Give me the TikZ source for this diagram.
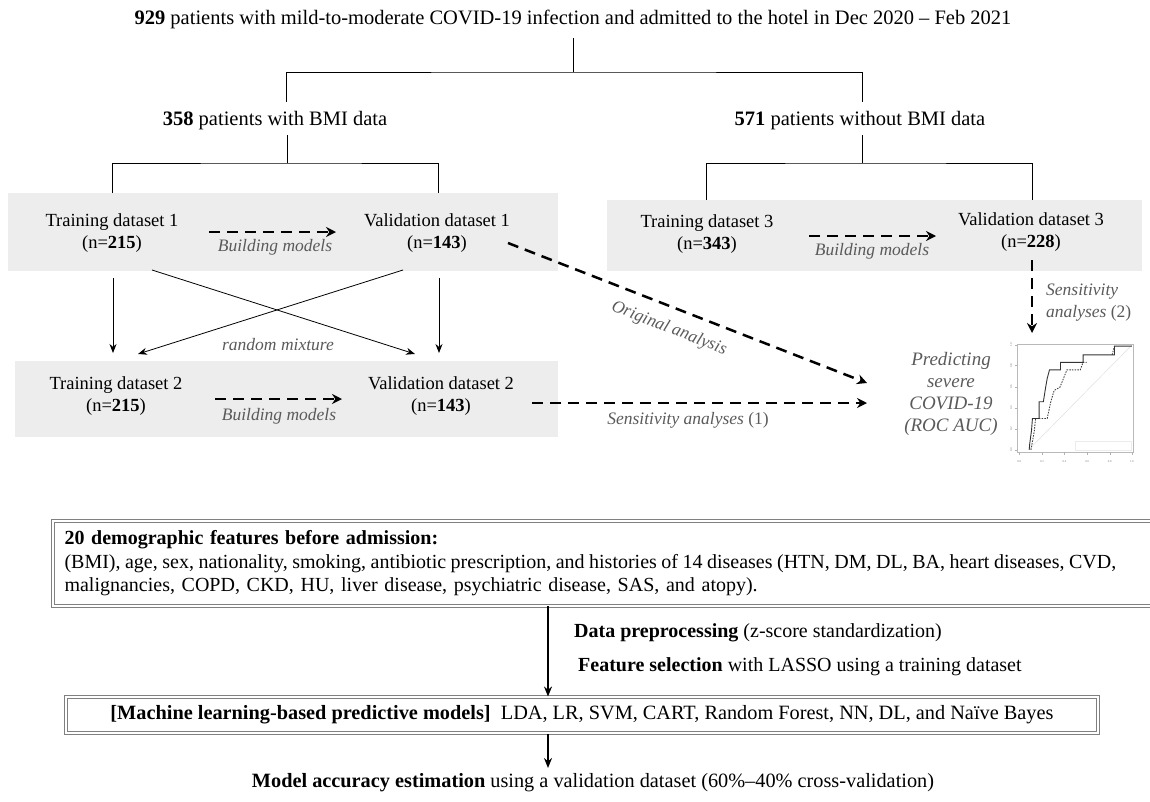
\documentclass[tikz,border=0pt]{standalone}
\usepackage{fontspec}
\setmainfont{Liberation Serif}
\usetikzlibrary{arrows.meta}
\definecolor{boxgray}{HTML}{EDEDED}
\definecolor{notegray}{HTML}{5A5A5A}
\begin{document}
\begin{tikzpicture}[x=1pt,y=-1pt,
 big/.style={font=\fontsize{20.5}{24}\selectfont, inner sep=0pt},
 lbl/.style={font=\fontsize{18.5}{22}\selectfont, align=center, inner sep=0pt},
 note/.style={font=\fontsize{17.5}{21}\selectfont\itshape, text=notegray, inner sep=0pt},
 gbox/.style={fill=boxgray, draw=none},
 dasharr/.style={line width=2.5pt, dash pattern=on 11pt off 7pt, -{Stealth[length=10pt,width=10pt]}},
 thinarr/.style={line width=0.8pt, -{Stealth[length=9pt,width=7pt]}},
 tree/.style={line width=0.9pt},
 thickarr/.style={line width=2pt, -{Stealth[length=10pt,width=8pt]}},
 dbox/.style={draw=gray, double=white, double distance=2pt, line width=1pt},
]
\useasboundingbox (0,0) rectangle (1150,801);

% gray panels
\fill[gbox] (8,193) rectangle (558,271);
\fill[gbox] (607,200) rectangle (1142,271);
\fill[gbox] (15,361) rectangle (558,437);

% top
\node[big] (top) at (573,19) {\textbf{929} patients with mild-to-moderate COVID-19 infection and admitted to the hotel in Dec 2020 -- Feb 2021};
\node[big] (with) at (275,121) {\textbf{358} patients with BMI data};
\node[big] (without) at (860,121) {\textbf{571} patients without BMI data};

\coordinate (t0) at (573,38);
\coordinate (t1) at (573,72);
\coordinate (tl) at (286,102);
\coordinate (tr) at (862,102);
\draw[tree] (t0) -- (t1);
\draw[tree] (tl) |- (t1) -| (tr);

\coordinate (w0) at (287,135);
\coordinate (w1) at (287,163);
\coordinate (wl) at (112,193);
\coordinate (wr) at (438,193);
\draw[tree] (w0) -- (w1);
\draw[tree] (wl) |- (w1) -| (wr);

\coordinate (o0) at (862,135);
\coordinate (o1) at (862,163);
\coordinate (ol) at (706,200);
\coordinate (or) at (1032,200);
\draw[tree] (o0) -- (o1);
\draw[tree] (ol) |- (o1) -| (or);

% datasets
\node[lbl] (tr1) at (112,233) {Training dataset 1\\(n=\textbf{215})};
\node[lbl] (va1) at (437,233) {Validation dataset 1\\(n=\textbf{143})};
\node[lbl] (tr2) at (116,396) {Training dataset 2\\(n=\textbf{215})};
\node[lbl] (va2) at (441,396) {Validation dataset 2\\(n=\textbf{143})};
\node[lbl] (tr3) at (707,234.5) {Training dataset 3\\(n=\textbf{343})};
\node[lbl] (va3) at (1031,232.5) {Validation dataset 3\\(n=\textbf{228})};

% building models
\coordinate (b1s) at (209,232);
\coordinate (b1e) at (336,232);
\draw[dasharr] (b1s) -- (b1e);
\node[note] (bm1) at (275,247) {Building models};
\coordinate (b2s) at (215,399);
\coordinate (b2e) at (342,399);
\draw[dasharr] (b2s) -- (b2e);
\node[note] (bm2) at (279,416) {Building models};
\coordinate (b3s) at (809,236);
\coordinate (b3e) at (936,236);
\draw[dasharr] (b3s) -- (b3e);
\node[note] (bm3) at (872,251) {Building models};

% vertical and cross arrows
\coordinate (d1s) at (113,278);
\coordinate (d1e) at (113,353);
\coordinate (d2s) at (439,278);
\coordinate (d2e) at (439,353);
\draw[thinarr] (d1s) -- (d1e);
\draw[thinarr] (d2s) -- (d2e);
\coordinate (c1s) at (152,270);
\coordinate (c1e) at (415,354);
\coordinate (c2s) at (403,270);
\coordinate (c2e) at (138,354);
\draw[thinarr] (c1s) -- (c1e);
\draw[thinarr] (c2s) -- (c2e);
\node[note] (mix) at (278,345) {random mixture};

% analyses
\node[font=\fontsize{19}{22}\selectfont\itshape, text=notegray, align=center, inner sep=0pt] (pred) at (951,394) {Predicting\\severe\\COVID-19\\(ROC AUC)};
\coordinate (oa) at (508,243);
\coordinate (oe) at (867,383);
\draw[dasharr] (oa) -- (oe) node[note, pos=0.47, sloped, below=12pt] {Original analysis};
\coordinate (sa) at (532,403);
\coordinate (se) at (867,403);
\draw[dasharr] (sa) -- (se);
\node[note] (s1) at (688,420) {Sensitivity analyses \normalfont(1)};
\coordinate (v3s) at (1032,260);
\coordinate (v3e) at (1032,333);
\draw[dasharr] (v3s) -- (v3e);
\node[note, align=left, font=\fontsize{17.5}{22}\selectfont\itshape, anchor=west] (s2) at (1046,303) {Sensitivity\\analyses \normalfont(2)};

% ROC plot
\begin{scope}[shift={(1017,452)}, x=116pt, y=108pt]
 \draw[gray!55, line width=0.4pt] (0,0) rectangle (1,1);
 \draw[gray!25, line width=0.5pt] (0.1,0.02) -- (0.99,0.99);
 \foreach \v/\t in {0.02/0.0,0.215/0.2,0.41/0.4,0.605/0.6,0.8/0.8,0.99/1.0} {
   \draw[gray!60, line width=0.3pt] (-0.02,\v) -- (0,\v);
   \node[font=\fontsize{3}{3}\selectfont, text=gray, rotate=90, inner sep=0pt] at (-0.05,\v) {\t};
   \draw[gray!60, line width=0.3pt] (\v,0) -- (\v,-0.03);
   \node[font=\fontsize{3}{3}\selectfont, text=gray, inner sep=0pt] at (\v,-0.085) {\t};
 }
 \draw[gray!15, line width=0.3pt] (0.5,0.02) rectangle (0.98,0.1);
 \draw[black!75, line width=0.9pt, dash pattern=on 1.5pt off 1.2pt] (0.12,0.02) -- (0.15,0.2) -- (0.16,0.31) -- (0.26,0.31) -- (0.29,0.46) -- (0.32,0.57) -- (0.37,0.6) -- (0.4,0.68) -- (0.43,0.76) -- (0.545,0.76) -- (0.57,0.83) -- (0.6,0.83);
 \draw[black!75, line width=0.9pt, dash pattern=on 1.5pt off 1.2pt] (0.82,0.9) -- (0.83,0.94) -- (0.84,0.98);
 \draw[black!80, line width=0.9pt] (0.105,0.02) -- (0.11,0.08) -- (0.125,0.2) -- (0.133,0.31) -- (0.19,0.31) -- (0.19,0.465) -- (0.227,0.465) -- (0.247,0.6) -- (0.26,0.68) -- (0.28,0.76) -- (0.375,0.76) -- (0.375,0.83) -- (0.57,0.83) -- (0.57,0.9) -- (0.84,0.9) -- (0.84,0.98) -- (0.99,0.98);
\end{scope}

% bottom part
\node[dbox, anchor=north west, inner xsep=12pt, inner ysep=10pt, text width=1130pt, align=left, font=\fontsize{20}{23.5}\selectfont] (feat) at (52,520) {\textbf{20 demographic features before admission:}\\{\spaceskip=4.5pt\xspaceskip=4.5pt\relax (BMI), age, sex, nationality, smoking, antibiotic prescription, and histories of 14 diseases (HTN, DM, DL, BA, heart diseases, CVD,}\\malignancies, COPD, CKD, HU, liver disease, psychiatric disease, SAS, and atopy).};
\node[dbox, minimum width=1032pt, minimum height=36pt, inner sep=0pt, font=\fontsize{20.3}{24}\selectfont] (ml) at (582,715) {\textbf{[Machine learning-based predictive models]}\ \ LDA, LR, SVM, CART, Random Forest, NN, DL, and Naïve Bayes};
\coordinate (ax) at (548,0);
\draw[thickarr] (feat.south -| ax) -- (ml.north -| ax);
\node[big, font=\fontsize{20}{24}\selectfont, anchor=west] (dp) at (574,633) {\textbf{Data preprocessing} (z-score standardization)};
\node[big, font=\fontsize{20}{24}\selectfont, anchor=west] (fs) at (578,667) {\textbf{Feature selection} with LASSO using a training dataset};
\node[big, font=\fontsize{20.3}{24}\selectfont] (acc) at (593,783) {\textbf{Model accuracy estimation} using a validation dataset (60\%--40\% cross-validation)};
\coordinate (ae) at (548,768);
\draw[thickarr] (ml.south -| ax) -- (ae);
\end{tikzpicture}
\end{document}
